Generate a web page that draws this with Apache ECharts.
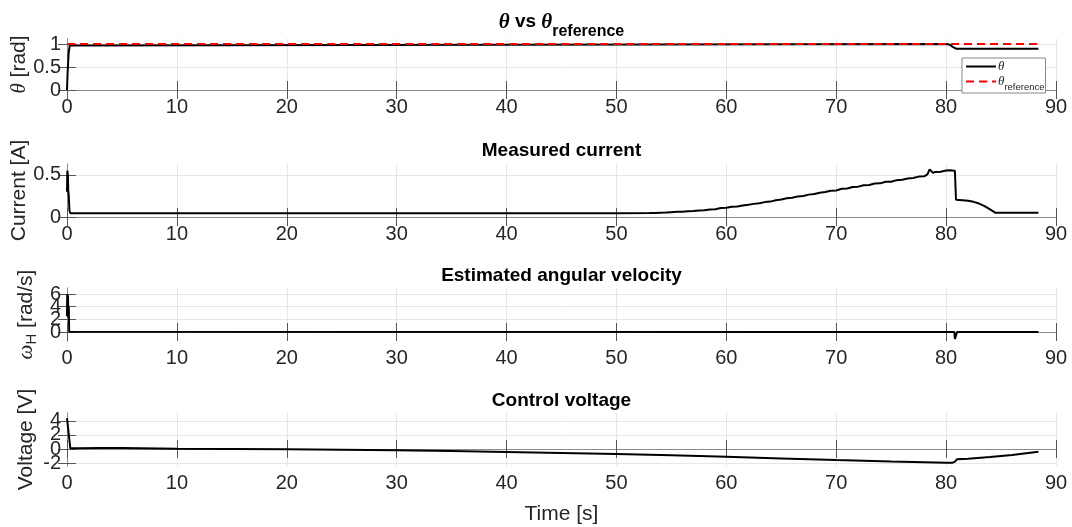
<!DOCTYPE html>
<html><head><meta charset="utf-8">
<script src="https://cdn.jsdelivr.net/npm/echarts@6/dist/echarts.min.js"></script>
<style>html,body{margin:0;padding:0;background:#fff}#c{width:1072px;height:527px}</style>
</head><body><div id="c"></div>
<script>
// ---- data ----
const xTicks = [0, 10, 20, 30, 40, 50, 60, 70, 80, 90];
const thetaTicks = [0, 0.5, 1];
const currentTicks = [0, 0.5];
const omegaTicks = [0, 2, 4, 6];
const voltageTicks = [-2, 0, 2, 4];

const thetaTime   = [0, 0.05, 0.15, 0.25, 0.35, 80.0, 80.3, 80.6, 80.9, 88.4];
const thetaValues = [0, 0.35, 0.80, 0.97, 1.0, 1.0, 0.99, 0.94, 0.90, 0.90];

const refTime   = [0, 88.4];
const refValues = [1, 1];

const currentTime = [0, 0.03, 0.08, 0.12, 0.16, 0.22, 0.3, 10, 20, 30, 40, 50, 53,
  53.5, 54, 54.5, 55, 55.5, 56, 56.5, 57, 57.5, 58, 58.5, 59, 59.5, 60, 60.5, 61, 61.5, 62, 62.5,
  63, 63.5, 64, 64.5, 65, 65.5, 66, 66.5, 67, 67.5, 68, 68.5, 69, 69.5, 70, 70.5, 71, 71.5, 72,
  72.5, 73, 73.5, 74, 74.5, 75, 75.5, 76, 76.5, 77, 77.5, 78, 78.3, 78.5, 78.8, 79, 79.5, 80, 80.3,
  80.6, 80.8, 80.9, 81.5, 82, 82.5, 83, 83.5, 84, 84.5, 88.4];
const currentValues = [0.30, 0.55, 0.50, 0.30, 0.26, 0.08, 0.045, 0.045, 0.046, 0.045, 0.045, 0.046, 0.047,
  0.049, 0.051, 0.053, 0.057, 0.061, 0.063, 0.068, 0.071, 0.078, 0.081, 0.090, 0.092, 0.106, 0.110, 0.121, 0.125, 0.137, 0.145, 0.156,
  0.164, 0.177, 0.183, 0.199, 0.208, 0.222, 0.228, 0.245, 0.250, 0.266, 0.273, 0.288, 0.296, 0.311, 0.316, 0.335, 0.338, 0.356, 0.361,
  0.378, 0.381, 0.398, 0.400, 0.419, 0.420, 0.438, 0.442, 0.458, 0.463, 0.480, 0.484, 0.506, 0.566, 0.524, 0.536, 0.538, 0.552, 0.556,
  0.553, 0.548, 0.205, 0.200, 0.192, 0.180, 0.160, 0.130, 0.090, 0.050, 0.050];

const omegaTime   = [0, 0.02, 0.06, 0.09, 0.12, 0.16, 0.2, 0.3, 80.75, 80.8, 80.9, 81.0, 88.4];
const omegaValues = [2.5, 6.0, 3.0, 5.8, 2.3, 4.0, 0.05, 0, 0, -1.1, -1.1, 0, 0];

const voltageTime   = [0, 0.05, 0.3, 1, 3, 5, 10, 15, 20, 25, 30, 35, 40, 45, 50, 55, 60, 65, 70, 75, 80,
  80.6, 80.8, 81, 82, 84, 86, 88.4];
const voltageValues = [4.4, 4.3, 0.1, 0.1, 0.15, 0.14, 0.04, 0, -0.05, -0.11, -0.19, -0.3, -0.43, -0.56, -0.71,
  -0.9, -1.12, -1.35, -1.57, -1.77, -1.95, -1.95, -1.8, -1.45, -1.38, -1.15, -0.85, -0.4];

// ---- helpers ----
const zip = (t, v) => t.map((x, i) => [x, v[i]]);
const SANS = 'Liberation Sans';
const SERIF = 'Liberation Serif';
const TXT = '#262626';
const AX = '#8a8a8a';
const GRIDC = '#e6e6e6';

const grids = [
  {top: 39, height: 51},
  {top: 164, height: 53},
  {top: 288, height: 53},
  {top: 413, height: 53}
];
// labels split over two left axes so that none get hidden as overlapping
const evens = a => a.filter((_, i) => i % 2 === 0);
const odds = a => a.filter((_, i) => i % 2 === 1);
const yInfo = [
  {min: 0, max: 1.11, ticks: thetaTicks, labA: thetaTicks, labB: null, name: '{th|θ} [rad]', gap: 37},
  {min: 0, max: 0.63, ticks: currentTicks, labA: currentTicks, labB: null, name: 'Current [A]', gap: 37},
  {min: -1.42, max: 6.95, ticks: omegaTicks, labA: evens(omegaTicks), labB: odds(omegaTicks), name: '{th|ω}{sub|H} [rad/s]', gap: 28},
  {min: -2.43, max: 5.14, ticks: voltageTicks, labA: evens(voltageTicks), labB: odds(voltageTicks), name: 'Voltage [V]', gap: 30}
];
const titleTops = [12, 141, 266, 391];
const titleTexts = ['{th|θ}{b| vs }{th|θ}{sub|reference}', 'Measured current', 'Estimated angular velocity', 'Control voltage'];

const labelStyle = {fontFamily: SANS, fontSize: 20, color: TXT, margin: 6, showMinLabel: true, showMaxLabel: true, hideOverlap: false};
const xAxes = [], yAxes = [];
grids.forEach((g, i) => {
  const common = {
    type: 'value', gridIndex: i, min: 0, max: 90, interval: 10,
    axisLine: {show: true, lineStyle: {color: AX, width: 1}},
    axisTick: {show: true, inside: true, length: 9, lineStyle: {color: '#555'}}
  };
  xAxes.push(Object.assign({}, common, {
    position: 'bottom',
    axisLabel: Object.assign({}, labelStyle, {margin: 7}),
    splitLine: {show: true, lineStyle: {color: GRIDC, width: 1}},
    name: i === 3 ? 'Time [s]' : '', nameLocation: 'middle', nameGap: 38, nameMoveOverlap: false,
    nameTextStyle: {fontFamily: SANS, fontSize: 21, color: TXT}
  }));
  xAxes.push(Object.assign({}, common, {
    position: 'top', axisLabel: {show: false}, splitLine: {show: false}
  }));
  const y = yInfo[i];
  const ycommon = {
    type: 'value', gridIndex: i, min: y.min, max: y.max,
    axisLine: {show: true, lineStyle: {color: AX, width: 1}},
    axisTick: {show: true, inside: true, length: 9, customValues: y.ticks, lineStyle: {color: '#555'}}
  };
  yAxes.push(Object.assign({}, ycommon, {
    position: 'left',
    axisLabel: Object.assign({}, labelStyle, {customValues: y.labA}),
    splitLine: {show: true, lineStyle: {color: GRIDC, width: 1}},
    name: y.name, nameLocation: 'middle', nameGap: y.gap, nameRotate: 90, nameMoveOverlap: false,
    nameTextStyle: {fontFamily: SANS, fontSize: 21, color: TXT, rich: {
      th: {fontFamily: SERIF, fontStyle: 'italic', fontSize: 21, color: TXT},
      sub: {fontFamily: SANS, fontSize: 15, color: TXT, verticalAlign: 'bottom', padding: [10, 0, 0, 0]}
    }}
  }));
  yAxes.push(Object.assign({}, ycommon, {
    position: 'right', axisLabel: {show: false}, splitLine: {show: false}
  }));
  yAxes.push({
    type: 'value', gridIndex: i, min: y.min, max: y.max, position: 'left',
    axisLine: {show: false}, axisTick: {show: false}, splitLine: {show: false},
    axisLabel: y.labB ? Object.assign({}, labelStyle, {customValues: y.labB}) : {show: false}
  });
});

const titles = titleTexts.map((t, i) => ({
  text: t, left: 561.5, top: titleTops[i], textAlign: 'center', padding: 0,
  textStyle: {fontFamily: SANS, fontWeight: 'bold', fontSize: 19, color: '#000',
    rich: {
      th: {fontFamily: SERIF, fontStyle: 'italic', fontWeight: 'bold', fontSize: 21, color: '#000', verticalAlign: 'top', lineHeight: 22},
      b: {fontFamily: SANS, fontWeight: 'bold', fontSize: 19, color: '#000', verticalAlign: 'top', lineHeight: 22},
      sub: {fontFamily: SANS, fontWeight: 'bold', fontSize: 16, color: '#000', verticalAlign: 'top', lineHeight: 16, padding: [12, 0, 0, 0]}
    }}
}));

const lineSeries = (name, data, gi, color, type) => ({
  name, type: 'line', data, xAxisIndex: gi * 2, yAxisIndex: gi * 3,
  showSymbol: false, symbol: 'none', animation: false,
  lineStyle: {color, width: 2, type: type || 'solid'}, itemStyle: {color}
});

const option = {
  backgroundColor: '#fff',
  animation: false,
  title: titles,
  grid: grids.map(g => ({left: 67, right: 16, top: g.top, height: g.height, outerBoundsMode: 'none', containLabel: false})),
  xAxis: xAxes,
  yAxis: yAxes,
  legend: {
    data: ['theta', 'thetaRef'], orient: 'vertical', left: 962, top: 58,
    padding: [2, 1, 1, 3], itemGap: 2, itemWidth: 30, itemHeight: 12,
    itemStyle: {opacity: 0},
    backgroundColor: '#fff', borderColor: '#8a8a8a', borderWidth: 1, borderRadius: 0,
    formatter: n => n === 'theta' ? '{th|θ}' : '{th|θ}{sub|reference}',
    textStyle: {color: TXT, fontSize: 11, padding: [0, 0, 0, -3], rich: {
      th: {fontFamily: SERIF, fontStyle: 'italic', fontSize: 13, color: TXT, verticalAlign: 'top', lineHeight: 13},
      sub: {fontFamily: SANS, fontSize: 9.5, color: TXT, verticalAlign: 'top', lineHeight: 9, padding: [7, 0, 0, 0]}
    }}
  },
  series: [
    lineSeries('theta', zip(thetaTime, thetaValues), 0, '#000'),
    Object.assign(lineSeries('thetaRef', zip(refTime, refValues), 0, '#ff0000', [8, 5]), {z: 3}),
    lineSeries('current', zip(currentTime, currentValues), 1, '#000'),
    lineSeries('omega', zip(omegaTime, omegaValues), 2, '#000'),
    lineSeries('voltage', zip(voltageTime, voltageValues), 3, '#000')
  ]
};
const chart = echarts.init(document.getElementById('c'), null, {renderer: 'canvas'});
chart.setOption(option);
</script>
</body></html>
